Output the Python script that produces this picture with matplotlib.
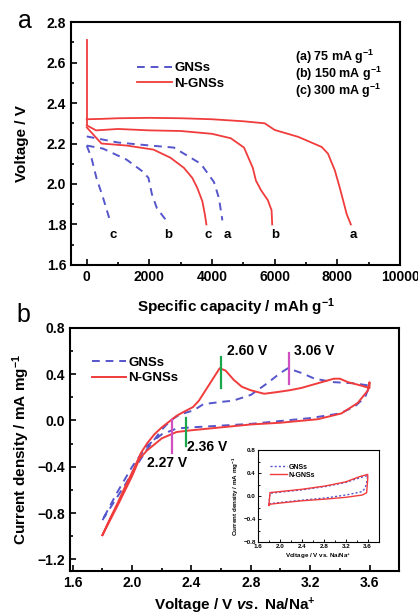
import numpy as np
import matplotlib
matplotlib.use("Agg")
import matplotlib.pyplot as plt
from matplotlib.ticker import MultipleLocator

plt.rcParams['font.family'] = ['Liberation Sans', 'DejaVu Sans']
plt.rcParams['font.weight'] = 'bold'
plt.rcParams['mathtext.fontset'] = 'custom'
plt.rcParams['mathtext.rm'] = 'Liberation Sans:bold'
plt.rcParams['mathtext.bf'] = 'Liberation Sans:bold'
plt.rcParams['mathtext.it'] = 'Liberation Sans:italic:bold'
plt.rcParams['mathtext.default'] = 'bf'

# ---- panel a : discharge curves ----
red_start_q = [0, 0]
red_start_v = [2.71, 2.29]

red_a_q = [0, 500, 1000, 2000, 3000, 4000, 5000, 5680, 6000, 6750, 7500, 7700, 7920, 8080, 8190, 8300, 8430]
red_a_v = [2.32, 2.322, 2.325, 2.327, 2.325, 2.32, 2.31, 2.30, 2.267, 2.233, 2.183, 2.15, 2.067, 1.98, 1.915, 1.85, 1.80]

red_b_q = [0, 300, 1000, 2000, 3000, 4000, 4600, 5020, 5300, 5400, 5560, 5780, 5900, 5920]
red_b_v = [2.29, 2.265, 2.272, 2.265, 2.262, 2.248, 2.226, 2.18, 2.08, 2.017, 1.97, 1.92, 1.87, 1.80]

red_c_q = [0, 470, 1276, 2130, 2670, 3100, 3370, 3530, 3690, 3770, 3820]
red_c_v = [2.28, 2.20, 2.19, 2.17, 2.13, 2.08, 2.03, 1.98, 1.915, 1.85, 1.80]

blue_a_q = [0, 1000, 2030, 2780, 3640, 4060, 4220, 4330]
blue_a_v = [2.235, 2.205, 2.19, 2.18, 2.10, 2.01, 1.93, 1.82]

blue_b_q = [0, 520, 1276, 1800, 1970, 2080, 2240, 2560]
blue_b_v = [2.19, 2.175, 2.12, 2.06, 2.03, 1.95, 1.88, 1.815]

blue_c_q = [0, 150, 310, 525, 740]
blue_c_v = [2.19, 2.13, 2.03, 1.93, 1.82]

curve_letters = ['c', 'b', 'c', 'a', 'b', 'a']
letter_q = [840, 2600, 3870, 4500, 6030, 8510]
rate_labels = ['(a) 75 mA g$^{-1}$', '(b) 150 mA g$^{-1}$', '(c) 300 mA g$^{-1}$']

# ---- panel b : CV curves ----
ngns_v = [1.80, 1.85, 1.90, 1.95, 2.00, 2.06, 2.10, 2.15, 2.20, 2.26, 2.30, 2.35, 2.41, 2.45, 2.51, 2.55, 2.59, 2.63, 2.685, 2.74,
          2.80, 2.89, 2.98, 3.06, 3.14, 3.25, 3.36, 3.40, 3.455, 3.545, 3.60, 3.60,
          3.59, 3.52, 3.41, 3.25, 3.00, 2.80, 2.60, 2.40, 2.30, 2.20, 2.10, 2.05, 2.00, 1.90, 1.80]
ngns_i = [-0.99, -0.85, -0.72, -0.58, -0.45, -0.28, -0.20, -0.12, -0.06, 0.0, 0.04, 0.075, 0.115, 0.17, 0.29, 0.37, 0.45, 0.43, 0.35, 0.29,
          0.26, 0.23, 0.245, 0.26, 0.28, 0.32, 0.36, 0.36, 0.33, 0.30, 0.28, 0.33,
          0.26, 0.15, 0.06, 0.01, -0.02, -0.035, -0.06, -0.085, -0.10, -0.155, -0.26, -0.33, -0.48, -0.74, -0.99]

gns_v = [1.80, 1.90, 1.96, 2.00, 2.10, 2.20, 2.26, 2.32, 2.415, 2.48, 2.60, 2.68, 2.80, 2.91, 3.00, 3.05, 3.14, 3.23, 3.36, 3.50, 3.60,
         3.57, 3.50, 3.40, 3.20, 2.80, 2.40, 2.30, 2.20, 2.10, 2.00, 1.90, 1.80]
gns_i = [-0.86, -0.66, -0.54, -0.45, -0.25, -0.08, 0.0, 0.05, 0.087, 0.14, 0.16, 0.17, 0.22, 0.32, 0.41, 0.45, 0.41, 0.36, 0.33, 0.32, 0.30,
         0.20, 0.12, 0.06, 0.02, -0.03, -0.06, -0.07, -0.12, -0.22, -0.40, -0.62, -0.86]

# inset (first cycles)
in_ngns_v = [1.80, 1.82, 2.00, 2.40, 2.84, 3.20, 3.45, 3.60, 3.60, 3.58, 3.50, 3.20, 2.84, 2.40, 2.00, 1.82, 1.80]
in_ngns_i = [-0.16, 0.063, 0.08, 0.12, 0.18, 0.25, 0.34, 0.38, 0.30, 0.06, 0.02, -0.02, -0.05, -0.08, -0.12, -0.14, -0.16]
in_gns_v = [1.80, 1.82, 2.00, 2.40, 2.84, 3.20, 3.45, 3.60, 3.58, 3.55, 3.50, 3.20, 2.84, 2.40, 2.00, 1.82, 1.80]
in_gns_i = [-0.15, 0.05, 0.07, 0.11, 0.17, 0.24, 0.32, 0.36, 0.22, 0.14, 0.08, 0.02, -0.03, -0.07, -0.11, -0.13, -0.15]

peak_v = [2.60, 3.06, 2.27, 2.36]
peak_lo = [0.28, 0.31, -0.28, -0.22]
peak_hi = [0.55, 0.58, 0.0, 0.02]
peak_col = ['#1aa64a', '#d050c0', '#d050c0', '#1aa64a']
peak_text = ['2.60 V', '3.06 V', '2.27 V', '2.36 V']
peak_text_x = [2.64, 3.09, 2.10, 2.37]
peak_text_y = [0.60, 0.60, -0.37, -0.23]

RED = '#f03c3c'
BLUE = '#5555cc'

fig = plt.figure(figsize=(4.18, 6.16), dpi=100)


def style_axes(ax, size=10.5, lw=1.5, tl=4):
    for s in ax.spines.values():
        s.set_linewidth(lw)
    ax.tick_params(which='both', direction='in', top=False, right=False, width=lw * 0.8, labelsize=size)
    ax.tick_params(which='major', length=tl)
    ax.tick_params(which='minor', length=tl * 0.6)
    for lab in ax.get_xticklabels() + ax.get_yticklabels():
        lab.set_fontweight('bold')


# panel a
axa = fig.add_axes([0.170, 0.570, 0.787, 0.394])
axa.plot(red_start_q, red_start_v, color=RED, lw=1.3)
axa.plot(blue_a_q, blue_a_v, color=BLUE, lw=1.4, ls=(0, (4, 3)), label='GNSs')
axa.plot(blue_b_q, blue_b_v, color=BLUE, lw=1.4, ls=(0, (4, 3)))
axa.plot(blue_c_q, blue_c_v, color=BLUE, lw=1.4, ls=(0, (4, 3)))
axa.plot(red_a_q, red_a_v, color=RED, lw=1.3, label='N-GNSs')
axa.plot(red_b_q, red_b_v, color=RED, lw=1.3)
axa.plot(red_c_q, red_c_v, color=RED, lw=1.3)
for letter, q in zip(curve_letters, letter_q):
    axa.text(q, 1.75, letter, ha='center', va='center', fontsize=9.5, fontweight='bold')
for k, t in enumerate(rate_labels):
    axa.text(6650, 2.63 - 0.085 * k, t, ha='left', va='center', fontsize=9, fontweight='bold')
axa.set_xlim(-500, 10000)
axa.set_ylim(1.6, 2.8)
axa.xaxis.set_major_locator(MultipleLocator(2000))
axa.xaxis.set_minor_locator(MultipleLocator(1000))
axa.yaxis.set_major_locator(MultipleLocator(0.2))
axa.yaxis.set_minor_locator(MultipleLocator(0.1))
axa.set_xticks([0, 2000, 4000, 6000, 8000, 10000])
axa.set_xticklabels(['0', '2000', '4000', '6000', '8000', '10000'])
axa.set_xlabel('Specific capacity / mAh g$^{-1}$', fontsize=11, fontweight='bold', labelpad=9)
axa.set_ylabel('Voltage / V', fontsize=11, fontweight='bold', labelpad=13)
style_axes(axa, size=10)
axa.legend(loc='upper left', bbox_to_anchor=(0.165, 0.885), frameon=False,
           handlelength=2.6, handletextpad=0.2, labelspacing=0.25, prop={'weight': 'bold', 'size': 9.5})

# panel b
axb = fig.add_axes([0.167, 0.073, 0.788, 0.395])
axb.plot(gns_v, gns_i, color=BLUE, lw=1.4, ls=(0, (4, 3)), label='GNSs')
axb.plot(ngns_v, ngns_i, color=RED, lw=1.4, label='N-GNSs')
for v, lo, hi, c in zip(peak_v, peak_lo, peak_hi, peak_col):
    axb.plot([v, v], [lo, hi], color=c, lw=1.6)
for t, x, y in zip(peak_text, peak_text_x, peak_text_y):
    axb.text(x, y, t, ha='left', va='center', fontsize=10, fontweight='bold')
axb.set_xlim(1.58, 3.8)
axb.set_ylim(-1.3, 0.8)
axb.xaxis.set_major_locator(MultipleLocator(0.4))
axb.xaxis.set_minor_locator(MultipleLocator(0.2))
axb.yaxis.set_major_locator(MultipleLocator(0.4))
axb.yaxis.set_minor_locator(MultipleLocator(0.2))
axb.set_xlabel('Voltage / V $\\mathit{vs.}$ Na/Na$^{+}$', fontsize=11, fontweight='bold', labelpad=4)
axb.set_ylabel('Current density / mA mg$^{-1}$', fontsize=11, fontweight='bold', labelpad=4)
style_axes(axb, size=10)
axb.legend(loc='upper left', bbox_to_anchor=(0.03, 0.93), frameon=False,
           handlelength=2.6, handletextpad=0.2, labelspacing=0.25, prop={'weight': 'bold', 'size': 9.5})

# inset
axi = fig.add_axes([0.617, 0.120, 0.289, 0.149])
axi.plot(in_gns_v, in_gns_i, color=BLUE, lw=1.0, ls=(0, (1.5, 1.5)), label='GNSs')
axi.plot(in_ngns_v, in_ngns_i, color=RED, lw=1.0, label='N-GNSs')
axi.set_xlim(1.6, 3.8)
axi.set_ylim(-0.8, 0.8)
axi.xaxis.set_major_locator(MultipleLocator(0.4))
axi.xaxis.set_minor_locator(MultipleLocator(0.2))
axi.yaxis.set_major_locator(MultipleLocator(0.4))
axi.yaxis.set_minor_locator(MultipleLocator(0.2))
axi.set_xlabel('Voltage / V vs. Na/Na$^{+}$', fontsize=4.5, fontweight='bold', labelpad=2)
axi.set_ylabel('Current density / mA mg$^{-1}$', fontsize=4.5, fontweight='bold', labelpad=2)
style_axes(axi, size=4.5, lw=0.8, tl=2)
axi.tick_params(pad=1.5)
axi.legend(loc='upper left', bbox_to_anchor=(0.05, 0.92), frameon=False,
           handlelength=2.4, handletextpad=0.3, labelspacing=0.1, prop={'weight': 'bold', 'size': 5})

fig.text(0.06, 0.966, 'a', fontsize=18, ha='center', va='center', fontweight='normal')
fig.text(0.055, 0.488, 'b', fontsize=18, ha='center', va='center', fontweight='normal')

fig.savefig('out.png', dpi=100)
